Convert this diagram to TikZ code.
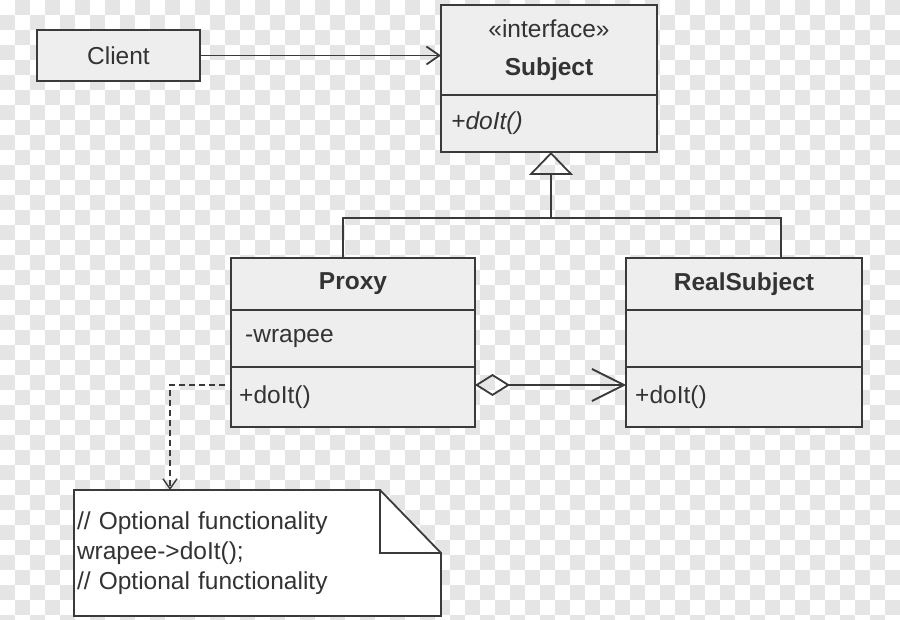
\documentclass[tikz,border=0pt]{standalone}
\usepackage{fontspec}
\setmainfont{Liberation Sans}
\usepackage{xcolor}
\usepackage{tikz}
\usetikzlibrary{arrows.meta, positioning, backgrounds}

\definecolor{boxgray}{HTML}{EEEEEE}
\definecolor{linegray}{HTML}{3A3A3A}
\definecolor{textgray}{HTML}{333333}
\definecolor{checkgray}{HTML}{E5E5E5}

\begin{document}
\begin{tikzpicture}[
  x=1pt, y=-1pt,
  node distance=0pt,
  classbox/.style={rectangle, draw=linegray, line width=1.8pt, fill=boxgray, inner sep=0pt, outer sep=0pt, text=textgray, font=\fontsize{24.5}{28}\selectfont},
  member/.style={inner sep=0pt, text=textgray, font=\fontsize{24.5}{28}\selectfont},
  notebox/.style={rectangle, inner xsep=3pt, inner ysep=0pt, outer sep=0pt, text width=361pt, align=left, minimum height=126pt, text=textgray, font=\fontsize{24.5}{30}\selectfont},
  line/.style={draw=linegray, line width=1.8pt},
  assoc/.style={line, -{Straight Barb[length=13pt, width=18pt]}},
  inherit/.style={line, -{Triangle[open, length=23pt, width=44pt]}},
  aggreg/.style={line, {Diamond[open, length=35pt, width=22pt]}-{Straight Barb[length=32pt, width=32pt]}},
  dep/.style={line, line width=1.4pt, dash pattern=on 6pt off 4pt, -{Straight Barb[length=10pt, width=14pt]}}
]
\useasboundingbox (0,0) rectangle (900,620);

% Client and interface
\node[classbox, minimum width=163pt, minimum height=51pt, anchor=north west] (client) at (37,30) {Client};
\node[classbox, minimum width=216pt, minimum height=90pt, anchor=north west, align=center, font=\fontsize{24.5}{38}\selectfont] (subjhead) at (441,5) {«interface»\\\textbf{Subject}};
\node[classbox, minimum width=216pt, minimum height=57pt, below=of subjhead] (subjops) {};
\node[member, right=10pt of subjops.west, font=\fontsize{24.5}{28}\selectfont\itshape] (subjdo) {+doIt()};

% Proxy
\node[classbox, minimum width=244pt, minimum height=52pt, anchor=north west] (proxyhead) at (231,258) {\textbf{Proxy}};
\node[classbox, minimum width=244pt, minimum height=57pt, below=of proxyhead] (proxyattr) {};
\node[classbox, minimum width=244pt, minimum height=60pt, below=of proxyattr] (proxyops) {};
\node[member, right=14pt of proxyattr.west] (wrapee) {-wrapee};
\node[member, right=8pt of proxyops.west] (proxydo) {+doIt()};

% RealSubject
\node[classbox, minimum width=236pt, minimum height=52pt, anchor=north west] (realhead) at (626,258) {\textbf{RealSubject}};
\node[classbox, minimum width=236pt, minimum height=57pt, below=of realhead] (realattr) {};
\node[classbox, minimum width=236pt, minimum height=60pt, below=of realattr] (realops) {};
\node[member, right=9pt of realops.west] (realdo) {+doIt()};

% Note
\node[notebox, anchor=north west] (note) at (74,490) {// Optional functionality\\wrapee->doIt();\\// Optional functionality};

\begin{scope}[on background layer]
  \begin{scope}
    \clip (0,0) rectangle (900,620);
    \foreach \i in {0,...,59} {
      \foreach \j in {0,...,41} {
        \pgfmathtruncatemacro\odd{mod(\i+\j,2)}
        \ifnum\odd=1 \fill[checkgray] (15*\i,15*\j) rectangle ++(15,15); \fi
      }
    }
  \end{scope}
  \filldraw[line, fill=white] (note.north west) -- ([xshift=-61pt]note.north east) -- ([yshift=-63pt]note.north east) -- (note.south east) -- (note.south west) -- cycle;
\end{scope}
\draw[line] ([xshift=-61pt]note.north east) |- ([yshift=-63pt]note.north east);

% Connectors
\coordinate (join) at (551,218);
\coordinate (bend) at (170,385);
\draw[assoc] (client) -- (client -| subjhead.west);
\draw[inherit] (join) -- ([xshift=2pt]subjops.south);
\draw[line] ([xshift=-10pt]proxyhead.north) |- (join);
\draw[line] ([xshift=37pt]realhead.north) |- (join);
\draw[aggreg] ([yshift=12pt]proxyops.east) -- ([yshift=12pt]realops.west);
\draw[dep] ([xshift=-6pt, yshift=12pt]proxyops.west) -- (bend) -- (bend |- note.north);

\end{tikzpicture}
\end{document}
